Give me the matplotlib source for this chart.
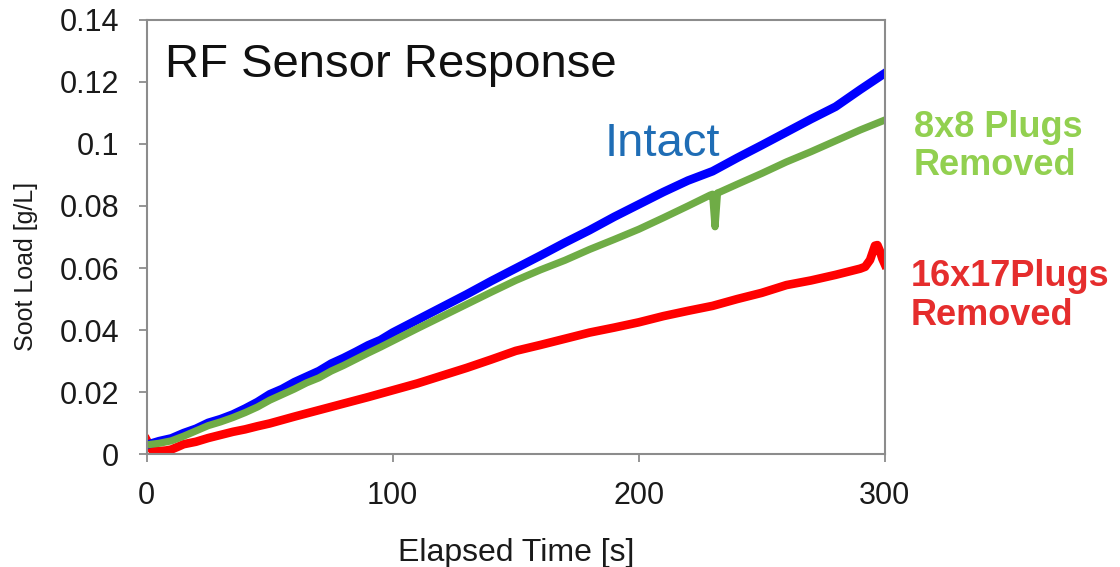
import matplotlib
matplotlib.use("Agg")
import matplotlib.pyplot as plt

plt.rcParams['font.family'] = ['Liberation Sans', 'DejaVu Sans']

# values (time in s, soot load in g/L)
t_intact = [0, 5, 10, 15, 20, 25, 30, 35, 40, 45, 50, 55, 60, 65, 70, 75, 80, 85, 90, 95, 100,
            110, 120, 130, 140, 150, 160, 170, 180, 190, 200, 210, 220, 230, 240, 250,
            260, 270, 280, 290, 300]
soot_intact = [0.0030, 0.0042, 0.0051, 0.0068, 0.0082, 0.0101, 0.0113, 0.0128, 0.0147, 0.0168, 0.0193,
               0.0210, 0.0232, 0.0250, 0.0268, 0.0292, 0.0310, 0.0330, 0.0351, 0.0368, 0.0392,
               0.0433, 0.0474, 0.0515, 0.0558, 0.0599, 0.0640, 0.0682, 0.0722, 0.0765, 0.0805,
               0.0845, 0.0882, 0.0912, 0.0955, 0.0996, 0.1038, 0.1080, 0.1120, 0.1175, 0.1228]

t_8x8 = [0, 5, 10, 15, 20, 25, 30, 35, 40, 45, 50, 55, 60, 65, 70, 75, 80, 85, 90, 95, 100,
         110, 120, 130, 140, 150, 160, 170, 180, 190, 200, 210, 220, 229, 230, 231, 232, 233,
         240, 250, 260, 270, 280, 290, 300]
soot_8x8 = [0.0030, 0.0035, 0.0043, 0.0058, 0.0075, 0.0092, 0.0104, 0.0118, 0.0134, 0.0152, 0.0174,
            0.0192, 0.0210, 0.0230, 0.0246, 0.0268, 0.0286, 0.0306, 0.0326, 0.0345, 0.0365,
            0.0405, 0.0444, 0.0483, 0.0522, 0.0560, 0.0594, 0.0625, 0.0660, 0.0692, 0.0725,
            0.0762, 0.0800, 0.0835, 0.0838, 0.0733, 0.0842, 0.0845, 0.0870, 0.0905, 0.0942,
            0.0975, 0.1010, 0.1045, 0.1077]

t_16x17 = [0, 2, 5, 8, 10, 13, 15, 20, 25, 30, 35, 40, 45, 50, 60, 70, 80, 90, 100, 110, 120,
           130, 140, 150, 160, 170, 180, 190, 200, 210, 220, 230, 240, 250, 260, 270, 280,
           290, 292, 294, 296, 297, 298, 299, 300]
soot_16x17 = [0.0045, 0.0015, 0.0010, 0.0012, 0.0015, 0.0025, 0.0032, 0.0040, 0.0052, 0.0062, 0.0072,
              0.0080, 0.0090, 0.0099, 0.0121, 0.0142, 0.0163, 0.0184, 0.0206, 0.0228, 0.0253,
              0.0278, 0.0305, 0.0333, 0.0352, 0.0372, 0.0392, 0.0408, 0.0425, 0.0445, 0.0462,
              0.0478, 0.0500, 0.0520, 0.0545, 0.0560, 0.0578, 0.0598, 0.0604, 0.0626, 0.0672,
              0.0674, 0.0655, 0.0630, 0.0612]

fig = plt.figure(figsize=(11.2, 5.67), dpi=100)
ax = fig.add_axes([0.131, 0.199, 0.659, 0.766])

ax.plot(t_16x17, soot_16x17, color='#ff0000', lw=6.2, solid_joinstyle='round')
ax.plot(t_intact, soot_intact, color='#0000ff', lw=6.2, solid_joinstyle='round')
ax.plot(t_8x8, soot_8x8, color='#6fac46', lw=5.2, solid_joinstyle='round')

ax.set_xlim(0, 300)
ax.set_ylim(0, 0.14)
ax.set_xticks([0, 100, 200, 300])
ax.set_yticks([0, 0.02, 0.04, 0.06, 0.08, 0.1, 0.12, 0.14])
ax.set_yticklabels(['0', '0.02', '0.04', '0.06', '0.08', '0.1', '0.12', '0.14'])

for s in ax.spines.values():
    s.set_color('#8c8c8c')
    s.set_linewidth(1.5)
ax.tick_params(direction='out', length=6, width=1.3, color='#8c8c8c',
               labelsize=22, labelcolor='#1a1a1a')
ax.tick_params(axis='y', pad=14)
ax.tick_params(axis='x', pad=13)

ax.set_xlabel('Elapsed Time [s]', fontsize=23, color='#1a1a1a', labelpad=20)
ax.set_ylabel('Soot Load [g/L]', fontsize=18, color='#1a1a1a')
ax.yaxis.set_label_coords(-0.147, 0.433)

ax.text(0.025, 0.895, 'RF Sensor Response', transform=ax.transAxes, fontsize=34,
        color='#111111', va='center', ha='left')
ax.text(0.62, 0.714, 'Intact', transform=ax.transAxes, fontsize=34,
        color='#1f6db5', va='center', ha='left')

fig.text(0.816, 0.742, '8x8 Plugs\nRemoved', fontsize=26, fontweight='bold',
         color='#92d050', va='center', ha='left', linespacing=1.12)
fig.text(0.813, 0.478, '16x17Plugs\nRemoved', fontsize=26, fontweight='bold',
         color='#e52d2d', va='center', ha='left', linespacing=1.12)

fig.savefig('out.png', dpi=100)
